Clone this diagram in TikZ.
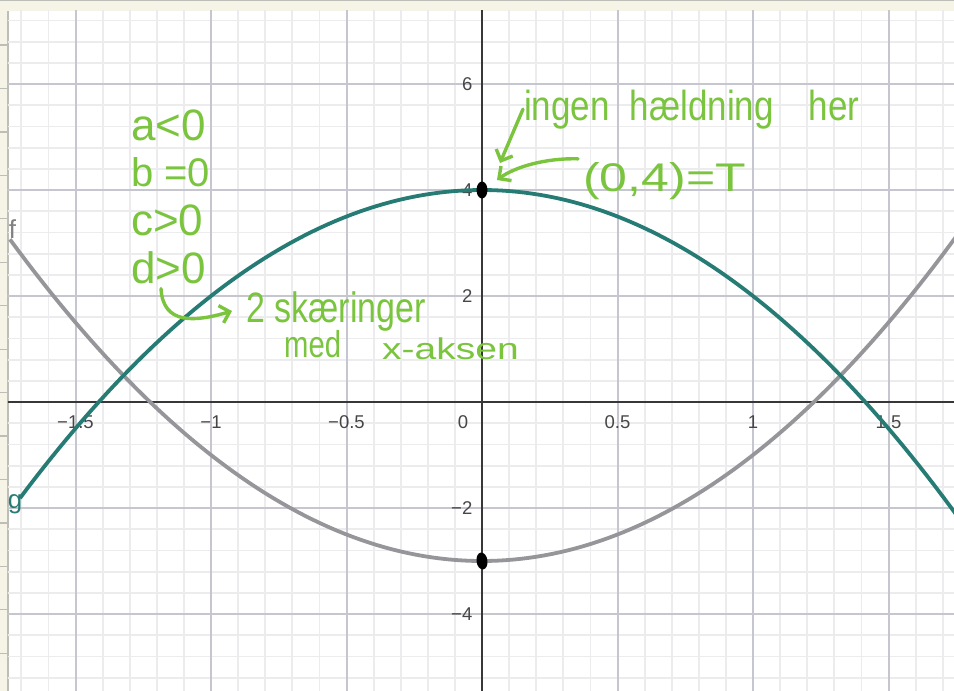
\documentclass[tikz,border=0pt]{standalone}
\usepackage{fontspec}
\setmainfont{Liberation Sans}
\usetikzlibrary{arrows.meta,shapes.geometric}
\definecolor{beige}{RGB}{246,244,231}
\definecolor{stripgray}{RGB}{190,190,185}
\definecolor{minorgrid}{RGB}{236,236,239}
\definecolor{majorgrid}{RGB}{198,198,208}
\definecolor{axiscol}{RGB}{55,55,55}
\definecolor{ticklab}{RGB}{70,70,70}
\definecolor{tealc}{RGB}{38,124,116}
\definecolor{grayc}{RGB}{150,150,154}
\definecolor{pen}{RGB}{122,196,62}
\begin{document}
\begin{tikzpicture}[x=1pt,y=-1pt,
  stripline/.style={draw=stripgray,line width=1.2pt},
  minorline/.style={draw=minorgrid,line width=1.8pt},
  majorline/.style={draw=majorgrid,line width=2pt},
  axisline/.style={draw=axiscol,line width=1.6pt},
  ticklabel/.style={text=ticklab,font=\fontsize{18.5}{20}\selectfont,inner sep=0pt},
  curveg/.style={draw=tealc,line width=3.8pt},
  curvef/.style={draw=grayc,line width=3.8pt},
  dotnode/.style={ellipse,fill=black,inner sep=0pt,minimum width=11pt,minimum height=17pt},
  hand/.style={text=pen,inner sep=0pt,anchor=base west},
  handline/.style={draw=pen,line width=3.4pt,line cap=round,line join=round},
  handarrow/.style={handline,-{Straight Barb[length=9pt,width=18pt,line width=3.4pt]}}
]
\useasboundingbox (0,0) rectangle (954,691);
\fill[white] (0,0) rectangle (954,691);
% GeoGebra window frame
\fill[beige] (0,0) rectangle (954,11);
\fill[beige] (0,0) rectangle (8,691);
\draw[stripline] (0,0.8) -- (954,0.8);
\draw[stripline] (8,11) -- (8,691);
\foreach \k in {0,...,14} \draw[stripline] (0,{45+43.45*\k}) -- (8,{45+43.45*\k});

\begin{scope}[shift={(482,402)}, x=271pt, y=53pt]
  \begin{scope}
    \clip (-1.7491,-5.46) rectangle (1.7417,7.38);
    \foreach \i in {-17,...,17} \draw[minorline] ({\i/10},-6) -- ({\i/10},8);
    \foreach \j in {-14,...,19} \draw[minorline] (-2,{\j*0.4}) -- (2,{\j*0.4});
    \foreach \i in {-3,...,3} \draw[majorline] ({\i*0.5},-6) -- ({\i*0.5},8);
    \foreach \j in {-3,...,4} \draw[majorline] (-2,{\j*2}) -- (2,{\j*2});
    \draw[axisline] (-2,0) -- (2,0);
    \draw[axisline] (0,-6) -- (0,8);
  \end{scope}
  % tick labels
  \node[ticklabel] (xm15) at (-1.5,-0.38) {−1.5};
  \node[ticklabel] (xm1) at (-1,-0.38) {−1};
  \node[ticklabel] (xm05) at (-0.5,-0.38) {−0.5};
  \node[ticklabel] (x0) at (-0.07,-0.38) {0};
  \node[ticklabel] (x05) at (0.5,-0.38) {0.5};
  \node[ticklabel] (x1) at (1,-0.38) {1};
  \node[ticklabel] (x15) at (1.5,-0.38) {1.5};
  \node[ticklabel,anchor=east] (y6) at (-0.035,6) {6};
  \node[ticklabel,anchor=east] (y4) at (-0.035,4) {4};
  \node[ticklabel,anchor=east] (y2) at (-0.035,2) {2};
  \node[ticklabel,anchor=east] (ym2) at (-0.035,-2) {−2};
  \node[ticklabel,anchor=east] (ym4) at (-0.035,-4) {−4};
  % curves
  \begin{scope}
    \clip (-1.7491,-5.46) rectangle (1.7417,7.38);
    \draw[curvef] plot[domain=-1.742:1.76,samples=120] (\x,{2*\x*\x-3});
    \draw[curveg] plot[domain=-1.705:1.76,samples=120] (\x,{4-2*\x*\x});
  \end{scope}
  \node[dotnode] (T) at (0,4) {};
  \node[dotnode,rotate=8] (V) at (0,-3) {};
\end{scope}

% curve names
\node[text=grayc!85!black,font=\fontsize{26}{28}\selectfont,inner sep=0pt] (fname) at (12.5,229) {f};
\node[text=tealc,font=\fontsize{26}{28}\selectfont,inner sep=0pt] (gname) at (15,504) {g};

% handwritten notes
\node[hand,font=\fontsize{44}{46}\selectfont] (na) at (131,140) {a<0};
\node[hand,font=\fontsize{40}{42}\selectfont] (nb) at (131,186) {b =0};
\node[hand,font=\fontsize{44}{46}\selectfont] (nc) at (131,235) {c>0};
\node[hand,font=\fontsize{44}{46}\selectfont] (nd) at (131,283) {d>0};
\node[hand,font=\fontsize{34}{36}\selectfont] (sk) at (246,322) {\scalebox{1}[1.25]{2 skæringer}};
\node[hand,font=\fontsize{34}{36}\selectfont] (med) at (284,357) {\scalebox{0.86}[1.1]{med}};
\node[hand,font=\fontsize{30}{32}\selectfont] (xak) at (382,359) {\scalebox{1.3}[1]{x-aksen}};
\node[hand,font=\fontsize{35}{37}\selectfont] (hold) at (524,120) {\scalebox{1}[1.2]{ingen\hspace{20pt}hældning\hspace{35pt}her}};
\node[hand,font=\fontsize{40}{42}\selectfont] (pt) at (583,191) {\scalebox{1.25}[1]{(0,4)=T}};

\draw[handarrow] ([shift={(30pt,-5pt)}]nd.south west) .. controls (163,325) and (195,322) .. ([xshift=-14pt]sk.west);
\draw[handarrow] ([xshift=-1pt]hold.west) -- ([shift={(18pt,27pt)}]T.center);
\draw[handarrow] ([shift={(-5pt,3pt)}]pt.north west) .. controls (545,158) and (515,167) .. ([shift={(15pt,10pt)}]T.center);
\end{tikzpicture}
\end{document}
